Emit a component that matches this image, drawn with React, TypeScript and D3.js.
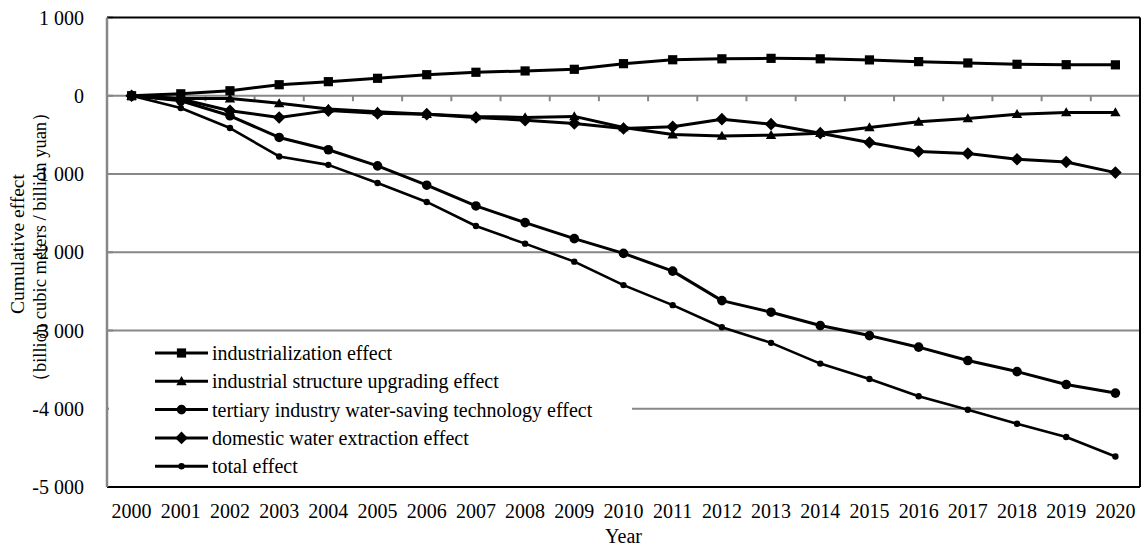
import React from 'react';
import * as d3 from 'd3';

const years = ['2000','2001','2002','2003','2004','2005','2006','2007','2008','2009','2010','2011','2012','2013','2014','2015','2016','2017','2018','2019','2020'];
const industrialization = [0, 25, 64, 141, 180, 223, 269, 300, 317, 338, 410, 460, 472, 478, 472, 458, 436, 419, 402, 397, 395];
const structureUpgrading = [0, -35, -35, -97, -170, -205, -235, -264, -277, -264, -405, -495, -513, -504, -478, -405, -333, -290, -235, -213, -213];
const tertiaryTech = [0, -64, -256, -533, -690, -896, -1143, -1408, -1621, -1826, -2014, -2241, -2618, -2766, -2937, -3065, -3213, -3384, -3525, -3691, -3800];
const domesticExtraction = [0, -42, -192, -277, -190, -225, -235, -277, -312, -354, -418, -397, -299, -363, -478, -597, -713, -738, -812, -846, -982];
const totalEffect = [0, -157, -413, -776, -883, -1115, -1357, -1665, -1890, -2120, -2420, -2676, -2958, -3158, -3423, -3619, -3841, -4012, -4191, -4361, -4610];
const yTicks = [1000, 0, -1000, -2000, -3000, -4000, -5000];
const seriesNames = [
  'industrialization effect',
  'industrial structure upgrading effect',
  'tertiary industry water-saving technology effect',
  'domestic water extraction effect',
  'total effect',
];
const markerKinds = ['square', 'triangle', 'circle', 'diamond', 'dot'];

const FONT = '"Liberation Serif", "Times New Roman", serif';
const GRAY = '#878787';

function markerPath(kind: string, px: number, py: number): string {
  const p = d3.path();
  if (kind === 'square') {
    const s = 4.6;
    p.rect(px - s, py - s, 2 * s, 2 * s);
  } else if (kind === 'triangle') {
    const s = 5.2;
    p.moveTo(px, py - s);
    p.lineTo(px + s, py + s * 0.75);
    p.lineTo(px - s, py + s * 0.75);
    p.closePath();
  } else if (kind === 'circle') {
    p.moveTo(px + 4.8, py);
    p.arc(px, py, 4.8, 0, Math.PI * 2);
  } else if (kind === 'diamond') {
    const s = 6.3;
    p.moveTo(px, py - s);
    p.lineTo(px + s, py);
    p.lineTo(px, py + s);
    p.lineTo(px - s, py);
    p.closePath();
  } else {
    p.moveTo(px + 3.2, py);
    p.arc(px, py, 3.2, 0, Math.PI * 2);
  }
  return p.toString();
}

function fmt(v: number): string {
  const a = Math.abs(v);
  const s = a >= 1000 ? `${Math.floor(a / 1000)} ${String(a % 1000).padStart(3, '0')}` : String(a);
  return (v < 0 ? '-' : '') + s;
}

export default function App() {
  const W = 1142;
  const H = 547;
  const left = 107;
  const right = 1140;
  const top = 17.5;
  const bottom = 487;

  const x = d3.scaleBand<string>().domain(years).range([left, right]);
  const cx = (yr: string) => (x(yr) as number) + x.bandwidth() / 2;
  const y = d3.scaleLinear().domain([-5000, 1000]).range([bottom, top]);

  const seriesData = [industrialization, structureUpgrading, tertiaryTech, domesticExtraction, totalEffect];
  const series = seriesData.map((vals, i) => ({
    name: seriesNames[i],
    kind: markerKinds[i],
    points: years.map((yr, j) => [cx(yr), y(vals[j])] as [number, number]),
  }));

  const line = d3.line<[number, number]>().x(d => d[0]).y(d => d[1]);

  const legendX = 155;
  const legendY0 = 353;
  const legendDy = 28.3;

  return (
    <svg width={W} height={H} style={{ position: 'absolute', left: 0, top: 0, display: 'block', background: '#fff' }} fontFamily={FONT}>
      <rect x={0} y={0} width={W} height={H} fill="#fff" />
      {/* gridlines */}
      {yTicks.filter(t => t !== 0 && t !== 1000 && t !== -5000).map(t => (
        <line key={t} x1={left} x2={right} y1={y(t)} y2={y(t)} stroke={GRAY} strokeWidth={2} />
      ))}
      {/* y ticks inside */}
      {yTicks.map(t => (
        <line key={'yt' + t} x1={left} x2={left + 6} y1={y(t)} y2={y(t)} stroke={GRAY} strokeWidth={2} />
      ))}
      {/* x axis at 0 */}
      <line x1={left} x2={right} y1={y(0)} y2={y(0)} stroke={GRAY} strokeWidth={2} />
      {years.slice(1).map(yr => (
        <line key={'xt' + yr} x1={x(yr) as number} x2={x(yr) as number} y1={y(0)} y2={y(0) + 5.5} stroke={GRAY} strokeWidth={2} />
      ))}
      {/* plot border */}
      <line x1={left} x2={right} y1={top} y2={top} stroke="#000" strokeWidth={2} />
      <line x1={left} x2={right} y1={bottom} y2={bottom} stroke="#000" strokeWidth={2} />
      <line x1={right} x2={right} y1={top} y2={bottom} stroke="#000" strokeWidth={2} />
      {/* series */}
      {series.map((s, i) => (
        <path key={'l' + i} d={line(s.points) as string} fill="none" stroke="#000" strokeWidth={s.kind === 'dot' ? 2.6 : 3} strokeLinejoin="round" />
      ))}
      {series.map((s, i) => (
        <g key={'m' + i}>
          {s.points.map((p, j) => (
            <path key={j} d={markerPath(s.kind, p[0], p[1])} fill="#000" />
          ))}
        </g>
      ))}
      {/* legend */}
      <rect x={left + 2} y={337} width={523} height={bottom - 338} fill="#fff" />
      {series.map((s, i) => {
        const ly = legendY0 + i * legendDy;
        return (
          <g key={'lg' + i}>
            <line x1={legendX} x2={legendX + 53} y1={ly} y2={ly} stroke="#000" strokeWidth={3} />
            <path d={markerPath(s.kind, legendX + 26.5, ly)} fill="#000" />
            <text x={legendX + 57} y={ly} dy="0.35em" fontSize={20} fill="#000">{s.name}</text>
          </g>
        );
      })}
      {/* y axis line */}
      <line x1={left} x2={left} y1={top} y2={bottom} stroke={GRAY} strokeWidth={2.5} />
      {/* y tick labels */}
      {yTicks.map(t => (
        <text key={'yl' + t} x={84} y={y(t)} dy="0.35em" textAnchor="end" fontSize={20} fill="#000">{fmt(t)}</text>
      ))}
      {/* x tick labels */}
      {years.map(yr => (
        <text key={'xl' + yr} x={cx(yr)} y={518} textAnchor="middle" fontSize={20} fill="#000">{yr}</text>
      ))}
      <text x={(left + right) / 2} y={543} textAnchor="middle" fontSize={20} fill="#000">Year</text>
      {/* y title */}
      <text transform="translate(17,244) rotate(-90)" textAnchor="middle" dy="0.35em" fontSize={19.5} fill="#000">Cumulative effect</text>
      <text transform="translate(40,247) rotate(-90)" textAnchor="middle" dy="0.35em" fontSize={18.5} fill="#000">（billion cubic meters / billion yuan）</text>
    </svg>
  );
}
